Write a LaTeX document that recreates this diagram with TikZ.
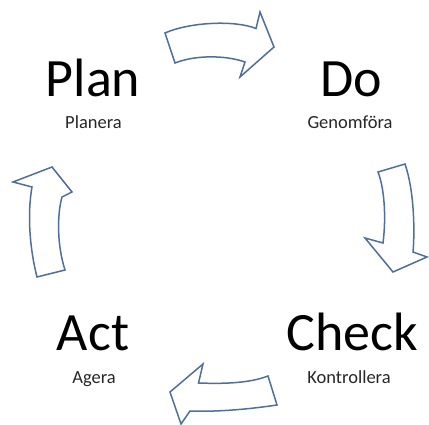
\documentclass[tikz,border=0pt]{standalone}
\usepackage{fontspec}
\setmainfont{Carlito}
\definecolor{arrowline}{HTML}{4F6E9E}
\begin{document}
\begin{tikzpicture}[x=1pt,y=-1pt,
  bigtext/.style={anchor=base,inner sep=0pt,font=\fontsize{54}{60}\selectfont},
  smalltext/.style={anchor=base,inner sep=0pt,font=\fontsize{18.5}{22}\selectfont,text=black!85},
  bentarrow/.style={draw=arrowline,line width=1.5pt,line join=miter,fill=white}]
\useasboundingbox (0,0) rectangle (429,425);
% texts
\node[bigtext] (plan) at (93,97) {Plan};
\node[smalltext] (planera) at (93.5,129) {Planera};
\node[bigtext] (do) at (351,97) {Do};
\node[smalltext] (genomfora) at (350,129) {Genomföra};
\node[bigtext] (act) at (93,350) {Act};
\node[smalltext] (agera) at (94,383) {Agera};
\node[bigtext] (check) at (352,350) {Check};
\node[smalltext] (kontrollera) at (349,383) {Kontrollera};
% top arrow (Plan -> Do)
\draw[bentarrow] (165,33) -- (175,63)
  .. controls (195,55) and (225,55) .. (245,62)
  -- (240,77) -- (274,47) -- (260,12) -- (256,28.5)
  .. controls (235,20) and (190,22) .. cycle;
% right arrow (Do -> Check)
\draw[bentarrow] (378,172) -- (405,164)
  .. controls (414,190) and (415,230) .. (413,252)
  -- (427,257) -- (393,272) -- (365,238) -- (383,243)
  .. controls (386,220) and (385,190) .. cycle;
% bottom arrow (Check -> Act)
\draw[bentarrow] (268,376) -- (277,405)
  .. controls (250,409) and (220,412) .. (190,411)
  -- (181,424) -- (170,392) -- (203,364) -- (198.5,383)
  .. controls (225,384) and (250,383) .. cycle;
% left arrow (Act -> Plan)
\draw[bentarrow] (37,277) -- (65,270)
  .. controls (57,245) and (57,215) .. (62,197)
  -- (72,192) -- (52,167) -- (13,182) -- (32,187)
  .. controls (27,215) and (30,250) .. cycle;
\end{tikzpicture}
\end{document}
